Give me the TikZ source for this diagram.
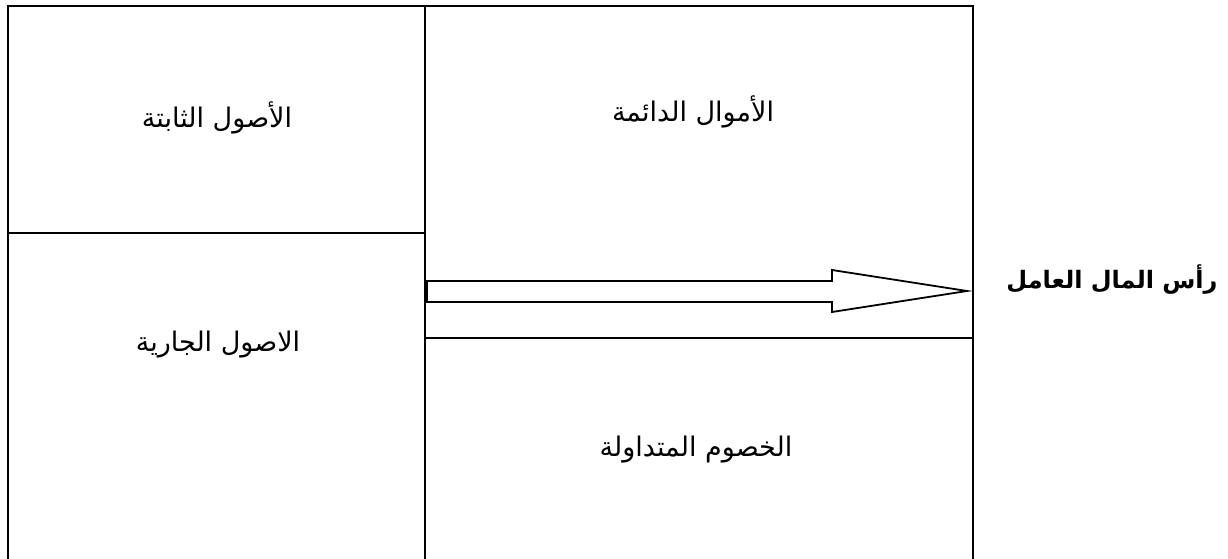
\documentclass[tikz,border=0pt]{standalone}
\usepackage{fontspec}
\newfontfamily\arabicfont[Script=Arabic]{DejaVu Sans}
\TeXXeTstate=1
\begin{document}
\begin{tikzpicture}[x=1pt,y=-1pt,
  frame/.style={line width=2.2pt,line cap=rect},
  lbl/.style={font=\arabicfont\fontsize{27}{32}\selectfont,inner sep=0pt},
  boldlbl/.style={font=\arabicfont\bfseries\fontsize{24}{29}\selectfont,inner sep=0pt},
  blockarrow/.style={line width=1.8pt,fill=white,line join=miter}]
\useasboundingbox (0,0) rectangle (1228,559);
\fill[white] (0,0) rectangle (1228,559);
% frame coordinates
\coordinate (tl) at (8,6);
\coordinate (tm) at (425,6);
\coordinate (tr) at (973,6);
\coordinate (bl) at (8,562);
\coordinate (bm) at (425,562);
\coordinate (br) at (973,562);
\coordinate (dl) at (8,233);
\coordinate (dm) at (425,233);
\coordinate (el) at (425,338);
\coordinate (er) at (973,338);
\draw[frame] (bl) -- (tl) -- (tr) -- (br);
\draw[frame] (tm) -- (bm);
\draw[frame] (dl) -- (dm);
\draw[frame] (el) -- (er);
% block arrow
\draw[blockarrow] (427,281) -- (832,281) -- (832,270) -- (967,291) -- (832,312) -- (832,302) -- (427,302) -- cycle;
% labels
\node[lbl] (fixed) at (217,118) {\beginR الأصول الثابتة\endR};
\node[lbl] (current) at (218,345) {\beginR الاصول الجارية\endR};
\node[lbl] (permanent) at (693,112) {\beginR الأموال الدائمة\endR};
\node[lbl] (liab) at (696,450) {\beginR الخصوم المتداولة\endR};
\node[boldlbl] (wc) at (1112,280) {\beginR رأس المال العامل\endR};
\end{tikzpicture}
\end{document}
